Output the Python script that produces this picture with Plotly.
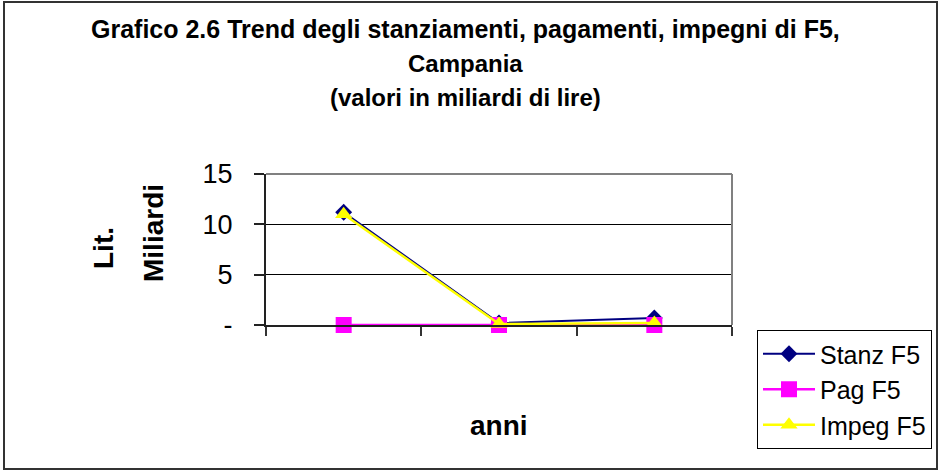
import plotly.graph_objects as go

categories = ["Anno 1", "Anno 2", "Anno 3"]
stanz_f5 = [11.2, 0.2, 0.7]
pag_f5 = [0.0, 0.0, 0.0]
impeg_f5 = [11.0, 0.1, 0.2]

y_tickvals = [0, 5, 10, 15]
y_ticktext = ["-", "5", "10", "15"]

FONT = "Arial, Liberation Sans, sans-serif"

W, H = 938, 471
L, R, T, B = 266, 206, 174, 146
PW, PH = W - L - R, H - T - B


def px_x(px):
    return (px - L) / PW


def px_y(py):
    return (H - B - py) / PH


fig = go.Figure()
fig.add_trace(go.Scatter(
    x=categories, y=stanz_f5, name="Stanz F5", mode="lines+markers",
    line=dict(color="#000080", width=2),
    marker=dict(symbol="diamond", size=13, color="#000080"),
    legendgroup="a", cliponaxis=False))
fig.add_trace(go.Scatter(
    x=categories, y=pag_f5, name="Pag F5", mode="lines+markers",
    line=dict(color="#FF00FF", width=2.5),
    marker=dict(symbol="square", size=16, color="#FF00FF"),
    legendgroup="b", cliponaxis=False))
fig.add_trace(go.Scatter(
    x=categories, y=impeg_f5, name="Impeg F5", mode="lines+markers",
    line=dict(color="#FFFF00", width=2.5),
    marker=dict(symbol="triangle-up", size=15, color="#FFFF00"),
    legendgroup="c", cliponaxis=False))

title_lines = [
    ("<b>Grafico 2.6 Trend degli stanziamenti, pagamenti, impegni di F5,</b>", 29, 25),
    ("<b>Campania</b>", 63, 24),
    ("<b>(valori in miliardi di lire)</b>", 97, 24),
]
anns = []
for txt, cy, fs in title_lines:
    anns.append(dict(text=txt, x=px_x(465), y=px_y(cy),
                     xref="paper", yref="paper", xanchor="center", yanchor="middle",
                     showarrow=False, font=dict(family=FONT, size=fs, color="black")))
for txt, cx, cy in [("Lit.", 103, 248), ("Miliardi", 153, 233)]:
    anns.append(dict(text="<b>%s</b>" % txt, x=px_x(cx), y=px_y(cy),
                     xref="paper", yref="paper", xanchor="center", yanchor="middle",
                     showarrow=False, textangle=-90,
                     font=dict(family=FONT, size=28, color="black")))
anns.append(dict(text="<b>anni</b>", x=px_x(499), y=px_y(425),
                 xref="paper", yref="paper", xanchor="center", yanchor="middle",
                 showarrow=False, font=dict(family=FONT, size=28, color="black")))

shapes = [
    dict(type="rect", xref="paper", yref="paper",
         x0=px_x(4), x1=px_x(937), y0=px_y(469), y1=px_y(2),
         line=dict(color="#333333", width=2), layer="below"),
    dict(type="line", xref="paper", yref="paper", x0=0, x1=1, y0=1, y1=1,
         line=dict(color="#808080", width=2), layer="above"),
    dict(type="line", xref="paper", yref="paper", x0=1, x1=1, y0=0, y1=1,
         line=dict(color="#808080", width=2), layer="above"),
]

fig.update_layout(
    width=W, height=H, autosize=False,
    margin=dict(l=L, r=R, t=T, b=B, pad=0, autoexpand=False),
    paper_bgcolor="white", plot_bgcolor="white",
    font=dict(family=FONT, color="black"),
    showlegend=True,
    legend=dict(x=px_x(757), y=px_y(330), xanchor="left", yanchor="top",
                bordercolor="black", borderwidth=1, bgcolor="white",
                font=dict(family=FONT, size=25, color="black"),
                tracegroupgap=0, itemwidth=52),
    annotations=anns,
    shapes=shapes,
    xaxis=dict(type="category", categoryorder="array", categoryarray=categories,
               range=[-0.5, 2.5], tickson="boundaries", ticks="outside",
               ticklen=9, tickcolor="#333333", tickwidth=1.5,
               showticklabels=False, showline=True, linecolor="#222222",
               linewidth=2, showgrid=False, zeroline=False, fixedrange=True),
    yaxis=dict(range=[0, 15], tickvals=y_tickvals, ticktext=y_ticktext,
               ticks="outside", ticklen=10, tickcolor="#222222", tickwidth=1.5,
               ticklabelstandoff=16,
               tickfont=dict(family=FONT, size=27, color="black"),
               showline=True, linecolor="#222222", linewidth=2,
               showgrid=True, gridcolor="black", gridwidth=1,
               zeroline=False, fixedrange=True),
)

fig.write_html(
    "out.html",
    config={"displayModeBar": False},
    post_script="document.body.style.margin='0';document.body.style.overflow='hidden';",
)
